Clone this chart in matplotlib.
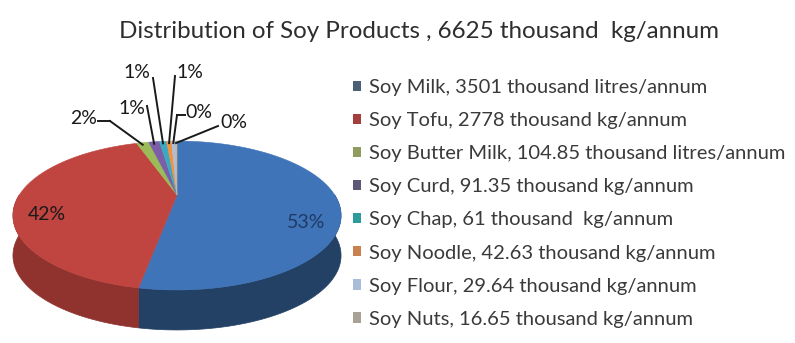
import numpy as np
import matplotlib
matplotlib.use("Agg")
import matplotlib.pyplot as plt
from matplotlib.patches import Polygon, Patch
from matplotlib.colors import to_rgb

# data
products = ["Soy Milk", "Soy Tofu", "Soy Butter Milk", "Soy Curd",
            "Soy Chap", "Soy Noodle", "Soy Flour", "Soy Nuts"]
amounts = [3501, 2778, 104.85, 91.35, 61, 42.63, 29.64, 16.65]
amount_text = ["3501", "2778", "104.85", "91.35", "61", "42.63", "29.64", "16.65"]
units = ["thousand litres/annum", "thousand kg/annum", "thousand litres/annum",
         "thousand kg/annum", "thousand  kg/annum", "thousand kg/annum",
         "thousand kg/annum", "thousand kg/annum"]
title = "Distribution of Soy Products , 6625 thousand  kg/annum"

colors = ["#3F74B8", "#C0443F", "#9BBB59", "#7B5EA7", "#3BA9C2",
          "#F3913E", "#A8BFE0", "#C4B5A3"]
legend_colors = ["#4C6075", "#A33E3C", "#8E9C5E", "#5D5877", "#2D9A9C",
                 "#C98150", "#A9BDD8", "#A8A196"]

# layout (pixel space)
W, H = 795, 343
cx, cy = 177, 195          # projected centre of the top face
A, B = 157.7, 68.8          # horizontal / vertical scale
k = 0.2755                  # perspective strength
depth = 40                  # thickness of the pie

plt.rcParams["font.family"] = ["Lato", "DejaVu Sans"]

fig = plt.figure(figsize=(W / 100, H / 100), dpi=100)
ax = fig.add_axes([0, 0, 1, 1])
ax.set_xlim(0, W)
ax.set_ylim(H, 0)
ax.axis("off")


def proj(theta_deg):
    t = np.radians(theta_deg)
    X, Y = np.cos(t), np.sin(t)
    den = 1 + k * Y
    return cx + A * X / den, cy - B * Y / den


def shade(c, f):
    r, g, b = to_rgb(c)
    return (r * f, g * f, b * f)


vals = np.array(amounts)
frac = vals / vals.sum()
cum = np.concatenate([[0], np.cumsum(frac)])
starts = 90 - 360 * cum[:-1]
ends = 90 - 360 * cum[1:]

# side walls (front half only)
side_f = [0.55, 0.75, 0.7, 0.7, 0.7, 0.7, 0.7, 0.7]
for s, e, c, f in zip(starts, ends, colors, side_f):
    lo, hi = max(e, -180), min(s, 0)
    if hi <= lo:
        continue
    th = np.linspace(hi, lo, 120)
    xs, ys = proj(th)
    pts = np.column_stack([np.r_[xs, xs[::-1]], np.r_[ys, ys[::-1] + depth]])
    ax.add_patch(Polygon(pts, closed=True, facecolor=shade(c, f),
                         edgecolor=shade(c, f), lw=0.5))

# top faces
for s, e, c in zip(starts, ends, colors):
    n = max(int(abs(s - e) * 2), 4)
    th = np.linspace(s, e, n)
    xs, ys = proj(th)
    pts = np.column_stack([np.r_[cx, xs], np.r_[cy, ys]])
    ax.add_patch(Polygon(pts, closed=True, facecolor=c, edgecolor=c, lw=0.4))

pcts = ["%d%%" % round(f * 100) for f in frac]

# inside labels for the two big slices
ax.text(28, 214, pcts[1], fontsize=14, color="#1a1a1a", ha="left", va="center")
ax.text(287, 223, pcts[0], fontsize=14, color="#1F3A66", ha="left", va="center")

# small slices: labels with leader lines
label_pos = [None, None, (70, 119), (118, 109), (123, 72), (176, 72), (185, 112), (220, 122)]
elbow = [None, None, (110, 121), (147, 106), (153, 78), (175, 76), (177, 115), (218, 126)]
lead_start = [None, None, (98, 121), None, None, None, (185, 115), None]
for i in range(2, len(products)):
    mid = (starts[i] + ends[i]) / 2
    px, py = proj(mid)
    lx, ly = label_pos[i]
    ex, ey = elbow[i]
    ax.plot([ex, px], [ey, py + 2], color="#1a1a1a", lw=1.4)
    if lead_start[i] is not None:
        sx, sy = lead_start[i]
        ax.plot([sx, ex], [sy, ey], color="#1a1a1a", lw=1.4)
    ax.text(lx, ly, pcts[i], fontsize=14, color="#1a1a1a", ha="left", va="center")

# legend
handles = [Patch(facecolor=lc, edgecolor="none") for lc in legend_colors]
labels = ["%s, %s %s" % (p, a, u) for p, a, u in zip(products, amount_text, units)]
ax.legend(handles, labels, loc="upper left", bbox_to_anchor=(353, 79),
          bbox_transform=ax.transData, frameon=False, fontsize=14.5,
          handlelength=0.4, handleheight=0.4, handletextpad=0.4,
          labelspacing=0.8, borderpad=0, borderaxespad=0, labelcolor="#3a3a3a")

ax.text(419, 32, title, fontsize=17.4, color="#2e2e2e", ha="center", va="center")

fig.savefig("out.png", dpi=100)
